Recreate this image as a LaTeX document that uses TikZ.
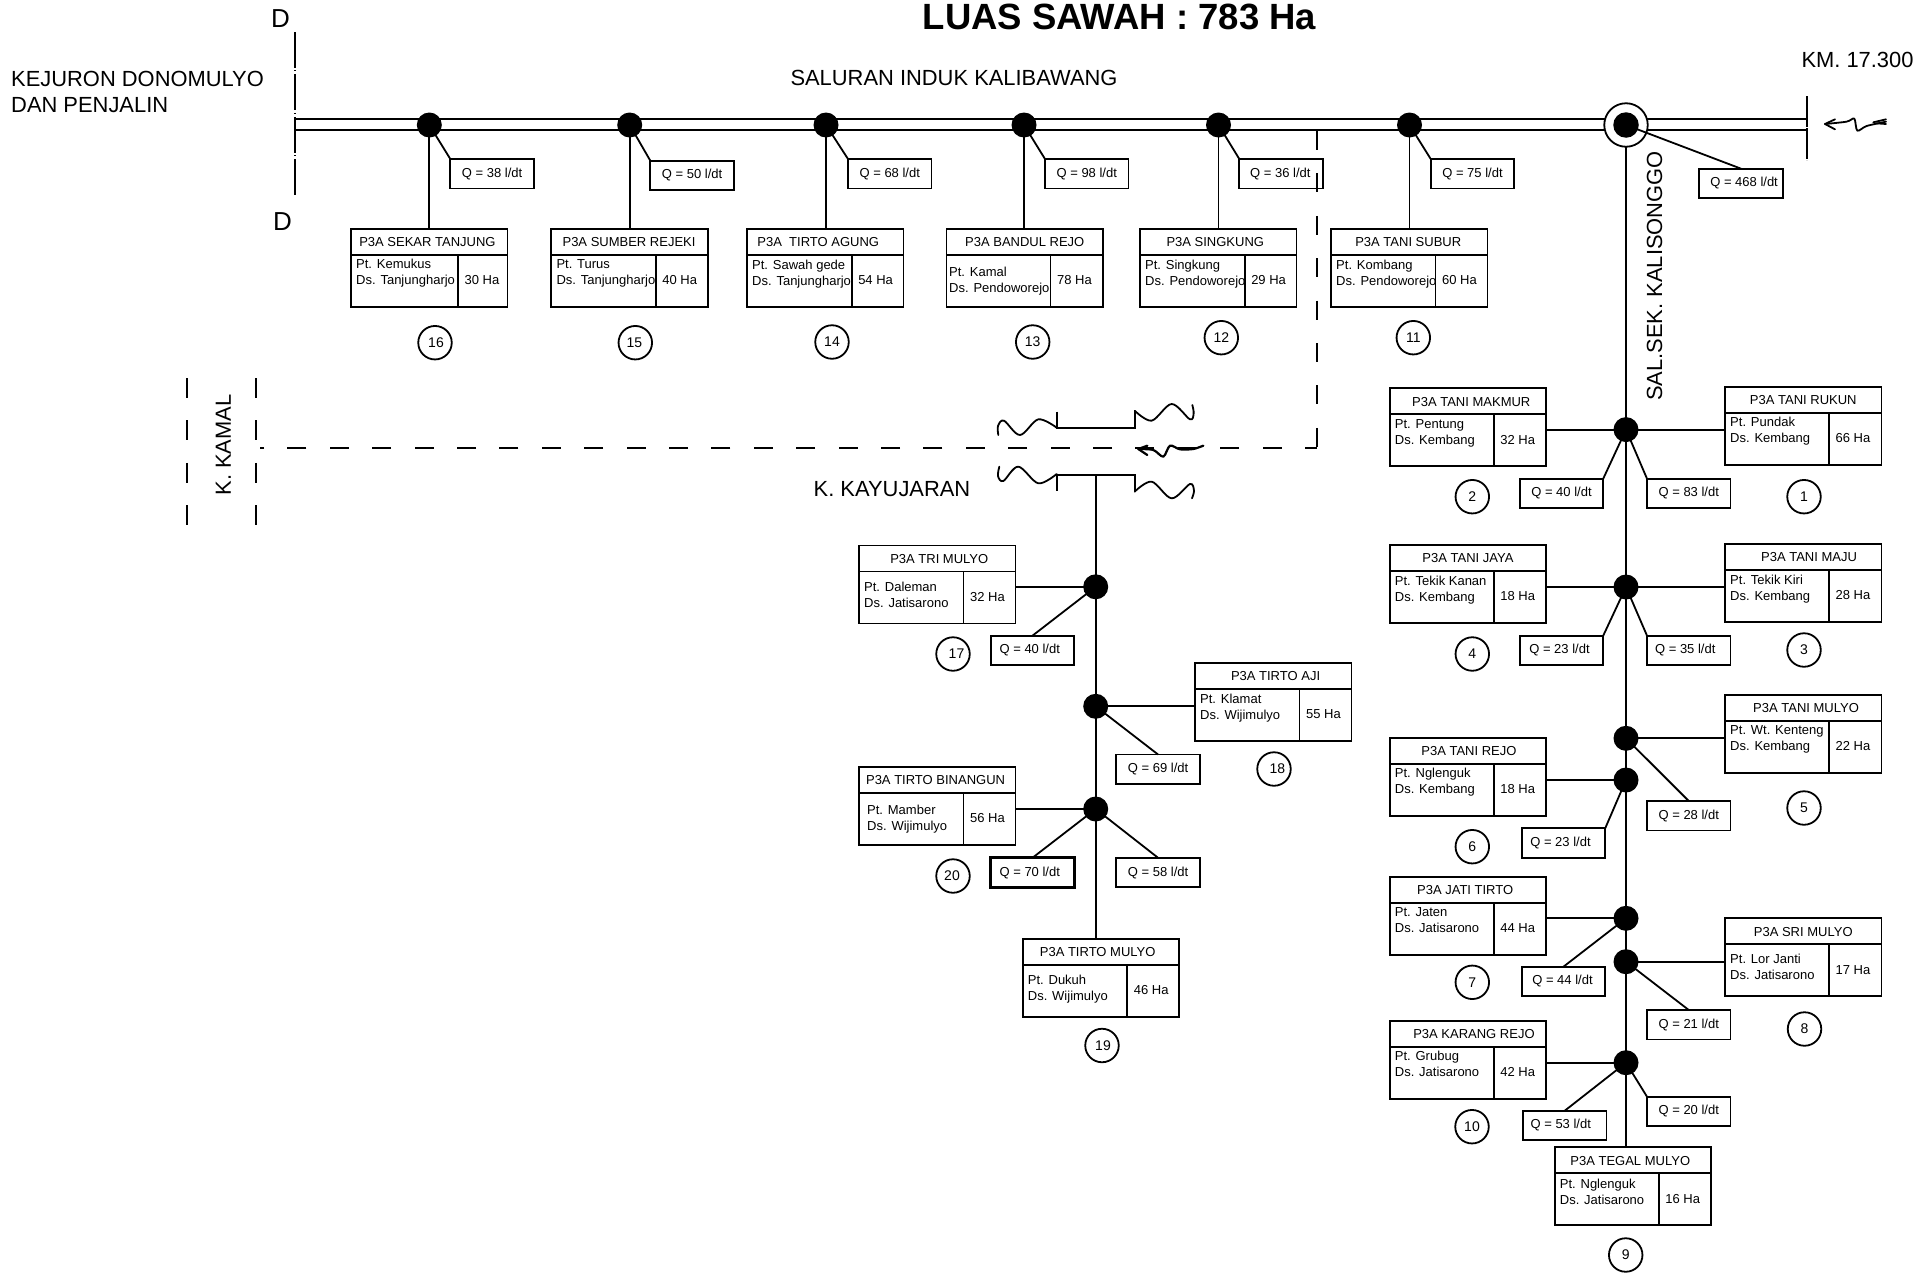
\documentclass[tikz,border=0pt]{standalone}
\usepackage{fontspec}
\setmainfont{Liberation Sans}
\tikzset{
  ln/.style={line width=1.8pt},
  small/.style={font=\fontsize{13}{15}\selectfont,inner sep=0pt},
  big/.style={font=\fontsize{21.9}{25}\selectfont,inner sep=0pt},
  farm/.style={draw,ln,inner sep=0pt,outer sep=0pt,minimum width=156.5pt,minimum height=78pt,anchor=north west},
  flow/.style={draw,ln,inner sep=0pt,outer sep=0pt,minimum width=83.5pt,minimum height=29.5pt,anchor=north west},
  numc/.style={draw,ln,circle,inner sep=0pt,outer sep=0pt,minimum size=33.5pt},
  jdot/.style={fill=black,circle,inner sep=0pt,outer sep=0pt,minimum size=25pt},
  bodytxt/.style={small,text height=10pt,text depth=3pt,anchor=west},
  wave/.style={line width=1.8pt,line cap=round,line join=round},
  cdash/.style={line width=2pt,dash pattern=on 19pt off 23.4pt}
}
% name, x,y, divider, title, title dx, line 1, line 2, inset,dy, area
\newcommand{\farmbox}[9]{%
  \node[farm] (#1) at (#2) {};
  \draw[ln] ([yshift=-26pt]#1.north west) -- ([yshift=-26pt]#1.north east);
  \draw[ln] ([xshift=#3pt,yshift=-26pt]#1.north west) -- ([xshift=#3pt]#1.south west);
  \node[small,text height=10pt,text depth=3pt] (#1t) at ([xshift=#5pt,yshift=-14.2pt]#1.north) {#4};
  \node[bodytxt] (#1a) at ([shift={(#8)},yshift=-1.2pt]#1.north west) {#6};
  \node[bodytxt] (#1b) at ([yshift=-16pt]#1a.west) {#7};
  \pgfmathsetmacro{\hax}{#3+24}
  \node[small,text height=10pt,text depth=3pt] (#1h) at ([shift={(\hax,52.2)}]#1.north west) {#9};
}
% name, x,y, text, text dx
\newcommand{\flowbox}[4]{%
  \node[flow] (#1) at (#2) {};
  \node[small,text height=10pt,text depth=3pt] (#1t) at ([xshift=#4pt]#1.center) {#3};
}
% name, x,y, text, text dx
\newcommand{\numcirc}[4]{%
  \node[numc] (#1) at (#2) {};
  \node[font=\fontsize{14}{15}\selectfont,inner sep=0pt] (#1t) at ([xshift=#4pt]#1.center) {#3};
}
\begin{document}
\begin{tikzpicture}[x=1pt,y=-1pt]
\useasboundingbox (0,0) rectangle (1930,1274);
\fill[white] (0,0) rectangle (1930,1274);

% headings
\node[font=\bfseries\fontsize{36.5}{40}\selectfont,inner sep=0pt] (title) at (1119.5,16.5) {LUAS SAWAH : 783 Ha};
\node[big,anchor=west] (kej1) at (11,79) {KEJURON DONOMULYO};
\node[big,anchor=west] (kej2) at (11,104.6) {DAN PENJALIN};
\node[big] (sal) at (954,78) {SALURAN INDUK KALIBAWANG};
\node[big] (km) at (1857.5,60) {KM. 17.300};
\node[big,rotate=90] (sek) at (1654.5,276) {SAL.SEK. KALISONGGO};
\node[big,rotate=90] (kam) at (223.3,445) {K. KAMAL};
\node[big] (kay) at (892,488.7) {K. KAYUJARAN};
\node[font=\fontsize{26}{28}\selectfont,inner sep=0pt] (dtop) at (280.5,18.7) {D};
\node[font=\fontsize{26}{28}\selectfont,inner sep=0pt] (dbot) at (282.5,221.5) {D};

% dashed canal K. Kamal and the section lines
\coordinate (kc) at (1317,448.3);
\coordinate (kl) at (260,448.3);
\coordinate (kt) at (1317,131);
\draw[cdash,dash phase=7pt] (kc) -- (kl);
\draw[cdash] (kt) -- ([yshift=-1pt]kc);
\coordinate (kama) at (186.7,378);
\coordinate (kamb) at (186.7,528);
\coordinate (kamc) at (255.7,378);
\coordinate (kamd) at (255.7,528);
\draw[line width=2pt,dash pattern=on 20pt off 22.4pt] (kama) -- (kamb);
\draw[line width=2pt,dash pattern=on 20pt off 22.4pt] (kamc) -- (kamd);

% main canal
\coordinate (ma1) at (295,119);
\coordinate (ma2) at (295,130);
\coordinate (mb1) at (1807.3,119);
\coordinate (mb2) at (1807.3,130);
\coordinate (dd1) at (294.7,32);
\coordinate (dd2) at (294.7,195);
\coordinate (ee1) at (1807.3,96);
\coordinate (ee2) at (1807.3,160);
\draw[ln] (ma1) -- (mb1);
\draw[ln] (ma2) -- (mb2);
\draw[line width=1.7pt,dash pattern=on 36pt off 2.4pt on 1pt off 3pt] (dd1) -- (dd2);
\draw[line width=1.7pt,dash pattern=on 30.5pt off 1.5pt] (ee1) -- (ee2);

% hub
\node[ln,draw,fill=white,circle,inner sep=0pt,outer sep=0pt,minimum size=43.5pt] (hub) at (1626,125) {};
\node[jdot,minimum size=25.5pt] (dh) at (1626,125) {};

% top junctions
\node[jdot] (d16) at (429.3,125) {};
\node[jdot] (d15) at (629.7,125) {};
\node[jdot] (d14) at (826,125) {};
\node[jdot] (d13) at (1024,125) {};
\node[jdot] (d12) at (1218.5,125) {};
\node[jdot] (d11) at (1409.5,125) {};
% right branch junctions
\node[jdot] (d1) at (1626,429.6) {};
\node[jdot] (d3) at (1626,587) {};
\node[jdot] (d5) at (1626,738.3) {};
\node[jdot] (d6) at (1626,780) {};
\node[jdot] (d7) at (1626,918.3) {};
\node[jdot] (d8) at (1626,961.7) {};
\node[jdot] (d10) at (1626,1062.7) {};
% middle branch junctions
\node[jdot] (d17) at (1095.7,586.8) {};
\node[jdot] (d18) at (1095.7,706.3) {};
\node[jdot] (d20) at (1095.7,809) {};

% farmer groups, top row
\farmbox{b16}{351,229}{107}{P3A SEKAR TANJUNG}{-1.8}{Pt. Kemukus}{Ds. Tanjungharjo}{5,35}{30 Ha}
\farmbox{b15}{551.3,229}{104.4}{P3A SUMBER REJEKI}{-0.5}{Pt. Turus}{Ds. Tanjungharjo}{5,35}{40 Ha}
\farmbox{b14}{747,229}{104.6}{P3A\ \ TIRTO AGUNG}{-7}{Pt. Sawah gede}{Ds. Tanjungharjo}{5,35.5}{54 Ha}
\farmbox{b13}{946.5,229}{104}{P3A BANDUL REJO}{0}{Pt. Kamal}{Ds. Pendoworejo}{2.5,43}{78 Ha}
\farmbox{b12}{1140,229}{104.6}{P3A SINGKUNG}{-3}{Pt. Singkung}{Ds. Pendoworejo}{5,35.5}{29 Ha}
\farmbox{b11}{1331,229}{104.5}{P3A TANI SUBUR}{-1}{Pt. Kombang}{Ds. Pendoworejo}{5,35.5}{60 Ha}
% right branch
\farmbox{b2}{1389.7,388.3}{104}{P3A TANI MAKMUR}{3.3}{Pt. Pentung}{Ds. Kembang}{5,35}{32 Ha}
\farmbox{b1}{1725,386.7}{104}{P3A TANI RUKUN}{0}{Pt. Pundak}{Ds. Kembang}{5,35.5}{66 Ha}
\farmbox{b4}{1389.7,545}{104}{P3A TANI JAYA}{0}{Pt. Tekik Kanan}{Ds. Kembang}{5,35.5}{18 Ha}
\farmbox{b3}{1725,543.7}{104}{P3A TANI MAJU}{5.8}{Pt. Tekik Kiri}{Ds. Kembang}{5,36}{28 Ha}
\farmbox{b5}{1725,695}{104}{P3A TANI MULYO}{2.8}{Pt. Wt. Kenteng}{Ds. Kembang}{5,35}{22 Ha}
\farmbox{b6}{1389.7,737.7}{104}{P3A TANI REJO}{1}{Pt. Nglenguk}{Ds. Kembang}{5,35.5}{18 Ha}
\farmbox{b7}{1389.7,876.7}{104}{P3A JATI TIRTO}{-2.8}{Pt. Jaten}{Ds. Jatisarono}{5,35.5}{44 Ha}
\farmbox{b8}{1725,918.3}{104}{P3A SRI MULYO}{0}{Pt. Lor Janti}{Ds. Jatisarono}{5,40}{17 Ha}
\farmbox{b10}{1389.7,1020.7}{104}{P3A KARANG REJO}{6}{Pt. Grubug}{Ds. Jatisarono}{5,35.5}{42 Ha}
\farmbox{b9}{1554.7,1147.3}{104}{P3A TEGAL MULYO}{-2.7}{Pt. Nglenguk}{Ds. Jatisarono}{5,36}{16 Ha}
% middle branch
\farmbox{b17}{859,545.5}{104.5}{P3A TRI MULYO}{2}{Pt. Daleman}{Ds. Jatisarono}{5,41}{32 Ha}
\farmbox{b18}{1195,662.6}{104.5}{P3A TIRTO AJI}{2.3}{Pt. Klamat}{Ds. Wijimulyo}{5,36.5}{55 Ha}
\farmbox{b20}{859,767}{104.5}{P3A TIRTO BINANGUN}{-1.7}{Pt. Mamber}{Ds. Wijimulyo}{8,42.5}{56 Ha}
\farmbox{b19}{1022.7,939}{104.5}{P3A TIRTO MULYO}{-3.3}{Pt. Dukuh}{Ds. Wijimulyo}{5,40.5}{46 Ha}

% discharges
\flowbox{q16}{450.3,159}{Q = 38 l/dt}{0}
\flowbox{q15}{650.3,160.7}{Q = 50 l/dt}{0}
\flowbox{q14}{848,159}{Q = 68 l/dt}{0}
\flowbox{q13}{1045,159}{Q = 98 l/dt}{0}
\flowbox{q12}{1239.3,159}{Q = 36 l/dt}{-0.7}
\flowbox{q11}{1430.7,159}{Q = 75 l/dt}{0}
\flowbox{qh}{1699.3,168.7}{Q = 468 l/dt}{3}
\flowbox{q2}{1519.7,478.7}{Q = 40 l/dt}{0}
\flowbox{q1}{1647,478.7}{Q = 83 l/dt}{0}
\flowbox{q4}{1519.7,635.7}{Q = 23 l/dt}{-2}
\flowbox{q3}{1647,635.7}{Q = 35 l/dt}{-3.5}
\flowbox{q5}{1647,801}{Q = 28 l/dt}{0}
\flowbox{q6}{1521.7,828.3}{Q = 23 l/dt}{-3}
\flowbox{q7}{1521.7,966.7}{Q = 44 l/dt}{-1}
\flowbox{q8}{1647,1010}{Q = 21 l/dt}{0}
\flowbox{q10}{1523,1110.7}{Q = 53 l/dt}{-4}
\flowbox{q9}{1647,1096.7}{Q = 20 l/dt}{0}
\flowbox{q17}{990.7,635.7}{Q = 40 l/dt}{-2.7}
\flowbox{q18}{1116.3,754.5}{Q = 69 l/dt}{0}
\node[flow,line width=2.8pt] (q20) at (990.7,857.8) {};
\node[small,text height=10pt,text depth=3pt] (q20t) at ([xshift=-2.7pt]q20.center) {Q = 70 l/dt};
\flowbox{q19}{1116.3,857.8}{Q = 58 l/dt}{0}

% numbers
\numcirc{n16}{435,342.7}{16}{1}
\numcirc{n15}{635.3,342.7}{15}{-1}
\numcirc{n14}{832,342}{14}{0}
\numcirc{n13}{1032.7,342}{13}{0}
\numcirc{n12}{1221.3,337.7}{12}{0}
\numcirc{n11}{1413.3,337.7}{11}{0}
\numcirc{n2}{1472.3,496.7}{2}{0}
\numcirc{n1}{1804,496.7}{1}{0}
\numcirc{n4}{1472.3,654}{4}{0}
\numcirc{n3}{1804,650}{3}{0}
\numcirc{n5}{1804,808}{5}{0}
\numcirc{n6}{1472.3,846.7}{6}{0}
\numcirc{n7}{1472.3,982.3}{7}{0}
\numcirc{n8}{1804.5,1029}{8}{0}
\numcirc{n10}{1472,1126.7}{10}{0}
\numcirc{n9}{1625.7,1255}{9}{0}
\numcirc{n17}{953,654}{17}{3.5}
\numcirc{n18}{1274,769}{18}{3.3}
\numcirc{n20}{953,876}{20}{-1}
\numcirc{n19}{1102,1045.5}{19}{1}

% top row connectors
\foreach \k in {16,15,14,13,12,11}{
  \draw[ln] (d\k.center) -- (d\k |- b\k.north);
  \draw[ln] (d\k.center) -- (q\k.north west);
}
% right branch trunk
\draw[ln] (hub.south) -- (hub |- b9.north);
\draw[ln] (dh.center) -- (qh.north);
\draw[ln] (d1.center) -- (d1 -| b2.east);
\draw[ln] (d1.center) -- (d1 -| b1.west);
\draw[ln] (d1.center) -- (q2.north east);
\draw[ln] (d1.center) -- (q1.north west);
\draw[ln] (d3.center) -- (d3 -| b4.east);
\draw[ln] (d3.center) -- (d3 -| b3.west);
\draw[ln] (d3.center) -- (q4.north east);
\draw[ln] (d3.center) -- (q3.north west);
\draw[ln] (d5.center) -- (d5 -| b5.west);
\draw[ln] (d5.center) -- (q5.north);
\draw[ln] (d6.center) -- (d6 -| b6.east);
\draw[ln] (d6.center) -- (q6.north east);
\draw[ln] (d7.center) -- (d7 -| b7.east);
\draw[ln] (d7.center) -- (q7.north);
\draw[ln] (d8.center) -- (d8 -| b8.west);
\draw[ln] (d8.center) -- (q8.north);
\draw[ln] (d10.center) -- (d10 -| b10.east);
\draw[ln] (d10.center) -- (q10.north);
\draw[ln] (d10.center) -- (q9.north west);

% middle branch
\coordinate (kroot) at (1095.7,474.7);
\draw[ln] (kroot) -- (kroot |- b19.north);
\draw[ln] (d17.center) -- (d17 -| b17.east);
\draw[ln] (d17.center) -- (q17.north);
\draw[ln] (d18.center) -- (d18 -| b18.west);
\draw[ln] (d18.center) -- (q18.north);
\draw[ln] (d20.center) -- (d20 -| b20.east);
\draw[ln] (d20.center) -- (q20.north);
\draw[ln] (d20.center) -- (q19.north);

% K. Kayujaran aqueduct and flow arrows
\begin{scope}[shift={(960,380)},x=0.3333pt,y=-0.3333pt]
  \draw[wave] plot[smooth,tension=0.55] coordinates {(115,165) (114,138) (132,122) (180,165) (235,118) (290,143)};
  \draw[ln] (290,95) -- (290,143) -- (524,143) -- (524,92);
  \draw[wave] plot[smooth,tension=0.55] coordinates {(524,92) (575,122) (635,72) (690,118) (701,100) (697,75)};
  \draw[wave] plot[smooth,tension=0.55] coordinates {(118,260) (114,288) (130,303) (175,260) (235,310) (290,282)};
  \draw[ln] (290,332) -- (290,284) -- (524,284) -- (524,335);
  \draw[wave] plot[smooth,tension=0.55] coordinates {(524,335) (575,305) (635,355) (690,312) (702,332) (696,355)};
  \draw[wave,line width=2.2pt] plot[smooth,tension=0.5] coordinates {(535,207) (580,210) (610,230) (630,197) (660,208) (700,207) (730,197)};
  \draw[wave,line width=2.2pt] (562,197) -- (535,207) -- (562,225);
\end{scope}
\begin{scope}[shift={(1500,80)},x=0.3333pt,y=-0.3333pt]
  \draw[wave] plot[smooth,tension=0.5] coordinates {(975,132) (1040,125) (1063,116) (1072,152) (1100,138) (1158,125)};
  \draw[wave] (1005,118) -- (975,132) -- (1005,148);
  \draw[wave] (1120,127) -- (1158,118);
  \draw[wave] (1130,130) -- (1158,132);
\end{scope}
\end{tikzpicture}
\end{document}
